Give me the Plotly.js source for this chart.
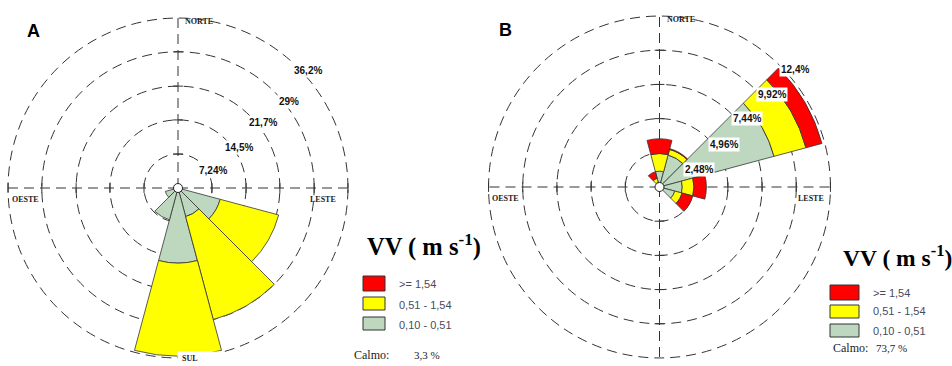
<!DOCTYPE html>
<html><head><meta charset="utf-8">
<script src="https://cdn.plot.ly/plotly-3.0.1.min.js"></script>
<style>html,body{margin:0;padding:0;background:#fff}#chart{width:952px;height:366px}</style>
</head><body><div id="chart"></div>
<script>
// ---- data ----
const directions = [0,30,60,90,120,150,180,210,240,270,300,330];
const speedBins = ['>= 1,54','0,51 - 1,54','0,10 - 0,51'];
// Panel A (% of time)
const aLow  = [0,0,0,0,9.3,6.3,16.0,7.0,2.8,0,0,0];
const aMid  = [0,0,0,0,12.9,22.7,19.8,0,0,0,0,0];
const aHigh = [0,0,0,0,0,0,0,0,0,0,0,0];
const aRings = [7.24,14.5,21.7,29,36.2];
const aRingText = ['7,24%','14,5%','21,7%','29%','36,2%'];
const aCalm = '3,3 %';
// Panel B (% of time)
const bLow  = [1.15,2.4,8.6,1.65,1.15,0,0,0,0,0,0,0.35];
const bMid  = [1.28,0.42,2.4,0.85,0.55,0,0,0,0,0,0,0.3];
const bHigh = [1.07,0.06,1.2,0.9,0.8,0,0,0,0,0,0,0.5];
const bRings = [2.48,4.96,7.44,9.92,12.4];
const bRingText = ['2,48%','4,96%','7,44%','9,92%','12,4%'];
const bCalm = '73,7 %';
const compassText = ['NORTE','LESTE','SUL','OESTE'];
const legendTitle = 'VV ( m s<sup>-1</sup>)';
const calmLabel = 'Calmo:';

// ---- styles ----
const colHigh = '#ff0000', colMid = '#ffff00', colLow = '#bdd8bf';
const binColors = [colHigh, colMid, colLow];
const W = 952, H = 366;
const px = x => x / W, py = y => 1 - y / H;
const dashGrid = '10px,6px';
const RF = 1.012; // radial range factor beyond outer ring

function nz(a){ return a.map(v => v > 0 ? v : null); }

function barTraces(sub, low, mid, high){
  const mk = (vals, col, name) => ({
    type:'barpolar', subplot:sub, name, r:nz(vals), theta:directions, width:directions.map(()=>30),
    marker:{color:col, line:{color:'#333', width:0.8}}, hoverinfo:'skip', showlegend:false
  });
  return [mk(low, colLow, speedBins[2]), mk(mid, colMid, speedBins[1]), mk(high, colHigh, speedBins[0])];
}

function crossTraces(sub, rings, low, mid, high){
  const tot = directions.map((d,i)=> low[i]+mid[i]+high[i]);
  const totAt = th => tot[directions.indexOf(th)];
  const ns = {r:[], t:[]}, ew = {r:[], t:[]};
  [90,270].forEach(th => rings.forEach(v => { if (totAt(th) < v) { ns.r.push(v); ns.t.push(th); } }));
  [0,180].forEach(th => rings.forEach((v,k) => { if (totAt(th) < v && k < rings.length-1) { ew.r.push(v); ew.t.push(th); } }));
  return [
    {type:'scatterpolar', subplot:sub, mode:'markers', r:ns.r, theta:ns.t, marker:{symbol:'line-ns', size:7, color:'#333', line:{width:1, color:'#333'}}, hoverinfo:'skip', showlegend:false, cliponaxis:false},
    {type:'scatterpolar', subplot:sub, mode:'markers', r:ew.r, theta:ew.t, marker:{symbol:'line-ew', size:7, color:'#333', line:{width:1, color:'#333'}}, hoverinfo:'skip', showlegend:false, cliponaxis:false},
    {type:'scatterpolar', subplot:sub, mode:'markers', r:[0], theta:[0],
     marker:{symbol:'circle', size:9, color:'#fff', line:{width:1, color:'#222'}}, hoverinfo:'skip', showlegend:false, cliponaxis:false}
  ];
}

const aMax = aRings[aRings.length-1], bMax = bRings[bRings.length-1];
const data = [].concat(
  barTraces('polar', aLow, aMid, aHigh),
  barTraces('polar2', bLow, bMid, bHigh),
  crossTraces('polar', aRings, aLow, aMid, aHigh),
  crossTraces('polar2', bRings, bLow, bMid, bHigh),
  [{type:'scatter', x:[0], y:[0], xaxis:'x', yaxis:'y', mode:'markers', marker:{opacity:0}, hoverinfo:'skip', showlegend:false},
   {type:'scatter', x:[0], y:[0], xaxis:'x2', yaxis:'y2', mode:'markers', marker:{opacity:0}, hoverinfo:'skip', showlegend:false}]
);

function domainOf(cx, cy, R){ return {x:[px(cx-R), px(cx+R)], y:[py(cy+R), py(cy-R)]}; }
function polarLayout(dom, rmax, rings){
  return {
    domain:dom, bgcolor:'rgba(0,0,0,0)', barmode:'stack',
    radialaxis:{range:[0, rmax*RF], tickvals:rings, showticklabels:false, ticks:'', showline:false,
      gridcolor:'#333', griddash:dashGrid, gridwidth:1, layer:'below traces'},
    angularaxis:{rotation:90, direction:'clockwise', tickvals:[0,90,180,270], showticklabels:false, ticks:'',
      showline:false, gridcolor:'#333', griddash:dashGrid, gridwidth:1, layer:'below traces'}
  };
}
function cartAxis(domain, rmax){ return {domain, range:[-rmax*RF, rmax*RF], visible:false, fixedrange:true}; }

const domA = domainOf(178, 188, 172), domB = domainOf(659.5, 187, 173);
const shapes = [], annotations = [];

// ring and compass labels, placed through hidden cartesian axes matching each polar subplot
function ringLabels(xr, yr, rings, texts, thetas, offFrac){
  const step = rings[1]-rings[0];
  rings.forEach((v,i)=>{
    const r = v + step*offFrac, t = thetas[i]*Math.PI/180;
    annotations.push({xref:xr, yref:yr, x:r*Math.sin(t), y:r*Math.cos(t), xanchor:'center', yanchor:'middle',
      showarrow:false, text:texts[i], bgcolor:'#fff', borderpad:1,
      font:{family:'Liberation Sans, Arial, sans-serif', size:10, color:'#111', weight:'bold'}});
  });
}
function compassLabels(xr, yr, rmax, eastX, southY){
  const f = {family:'Liberation Serif, Times New Roman, serif', size:8, color:'#222', weight:'bold'};
  annotations.push({xref:xr, yref:yr, x:rmax*0.03, y:rmax*0.978, xanchor:'left', yanchor:'middle', showarrow:false, text:compassText[0], font:f});
  annotations.push({xref:xr, yref:yr, x:rmax*eastX, y:-rmax*0.068, xanchor:'right', yanchor:'middle', showarrow:false, text:compassText[1], font:f});
  annotations.push({xref:xr, yref:yr, x:-rmax*0.005, y:-rmax*southY, xanchor:'left', yanchor:'middle', showarrow:false,
    text:'&nbsp;&nbsp;' + compassText[2], font:f, bgcolor:'#fff', width:42, height:12, align:'left', borderpad:0});
  annotations.push({xref:xr, yref:yr, x:-rmax*0.99, y:-rmax*0.068, xanchor:'left', yanchor:'middle', showarrow:false, text:compassText[3], font:f});
}
ringLabels('x', 'y', aRings, aRingText, [64,56,52.5,52,48], 0.15);
ringLabels('x2', 'y2', bRings, bRingText, [66,56.5,52,50.5,49], 0.26);
compassLabels('x', 'y', aMax, 0.94, 1.0);
compassLabels('x2', 'y2', bMax, 0.975, 1.015);

function legend(x0, boxW, boxYs, textX, textYs, titleX, titleY, titleSize, calmX, calmValX, calmY, calmVal){
  annotations.push({xref:'paper', yref:'paper', x:px(titleX), y:py(titleY), xanchor:'left', yanchor:'middle', showarrow:false,
    text:legendTitle, font:{family:'Liberation Serif, Times New Roman, serif', size:titleSize, color:'#000', weight:'bold'}});
  boxYs.forEach((b,i)=>{
    shapes.push({type:'rect', xref:'paper', yref:'paper', x0:px(x0), x1:px(x0+boxW), y0:py(b[1]), y1:py(b[0]),
      fillcolor:binColors[i], line:{color:'#333', width:1}});
    annotations.push({xref:'paper', yref:'paper', x:px(textX), y:py(textYs[i]), xanchor:'left', yanchor:'middle', showarrow:false,
      text:speedBins[i], font:{family:'Liberation Sans, Arial, sans-serif', size:11, color:'#4a4a5c'}});
  });
  annotations.push({xref:'paper', yref:'paper', x:px(calmX), y:py(calmY), xanchor:'left', yanchor:'middle', showarrow:false,
    text:calmLabel, font:{family:'Liberation Serif, Times New Roman, serif', size:12, color:'#222'}});
  annotations.push({xref:'paper', yref:'paper', x:px(calmValX), y:py(calmY), xanchor:'left', yanchor:'middle', showarrow:false,
    text:calmVal, font:{family:'Liberation Serif, Times New Roman, serif', size:11, color:'#222'}});
}
legend(363, 22, [[276,291],[297,310],[317,330]], 397, [284,305,325], 365, 245, 24.5, 352, 412, 355, aCalm);
legend(830, 29, [[285,300],[305,318],[324,337]], 871, [293,311,331], 841, 256, 23.5, 831, 874, 348, bCalm);
annotations.push({xref:'paper', yref:'paper', x:px(33), y:py(31), xanchor:'center', yanchor:'middle', showarrow:false,
  text:'A', font:{family:'Liberation Sans, Arial, sans-serif', size:18, color:'#000', weight:'bold'}});
annotations.push({xref:'paper', yref:'paper', x:px(505), y:py(30), xanchor:'center', yanchor:'middle', showarrow:false,
  text:'B', font:{family:'Liberation Sans, Arial, sans-serif', size:18, color:'#000', weight:'bold'}});

const layout = {
  width:W, height:H, margin:{l:0,r:0,t:0,b:0}, paper_bgcolor:'#fff', plot_bgcolor:'rgba(0,0,0,0)', showlegend:false,
  polar: polarLayout(domA, aMax, aRings),
  polar2: polarLayout(domB, bMax, bRings),
  xaxis: Object.assign(cartAxis(domA.x, aMax), {anchor:'y'}),
  yaxis: Object.assign(cartAxis(domA.y, aMax), {anchor:'x'}),
  xaxis2: Object.assign(cartAxis(domB.x, bMax), {anchor:'y2'}),
  yaxis2: Object.assign(cartAxis(domB.y, bMax), {anchor:'x2'}),
  shapes, annotations
};
Plotly.newPlot('chart', data, layout, {staticPlot:true, displayModeBar:false});
</script></body></html>
